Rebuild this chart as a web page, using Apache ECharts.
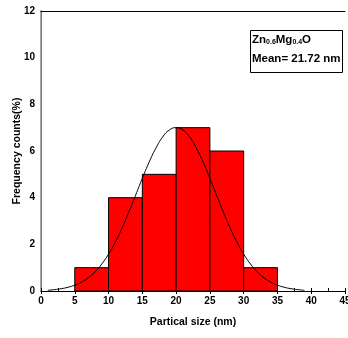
<!DOCTYPE html>
<html><head><meta charset="utf-8">
<script src="https://cdn.jsdelivr.net/npm/echarts@6/dist/echarts.min.js"></script>
<style>html,body{margin:0;padding:0;background:#fff}#c{width:348px;height:338px}</style>
</head><body><div id="c"></div>
<script>
const binLow = [5, 10, 15, 20, 25, 30];
const binHigh = [10, 15, 20, 25, 30, 35];
const counts = [1, 4, 5, 7, 6, 1];
const curveX = [1,2,3,4,5,6,7,8,9,10,11,12,13,14,15,16,17,18,19,20,21,22,23,24,25,26,27,28,29,30,31,32,33,34,35,36,37,38,39];
const curveY = [0.03,0.06,0.10,0.16,0.25,0.38,0.57,0.82,1.16,1.58,2.10,2.70,3.38,4.10,4.83,5.52,6.12,6.60,6.90,7.00,6.90,6.60,6.12,5.52,4.83,4.10,3.38,2.70,2.10,1.58,1.16,0.82,0.57,0.38,0.25,0.16,0.10,0.06,0.03];
const xTicks = [0, 45, 5];
const yTicks = [0, 12, 2];
const legendLines = ['Zn', '0.6', 'Mg', '0.4', 'O', 'Mean= 21.72 nm'];

const chart = echarts.init(document.getElementById('c'));
const font = 'Arial, "Liberation Sans", sans-serif';
const histData = binLow.map((lo, i) => [lo, binHigh[i], counts[i]]);
const curveData = curveX.map((x, i) => [x, curveY[i]]);

chart.setOption({
  animation: false,
  grid: { left: 41, right: 3, top: 11, bottom: 47, containLabel: false, outerBoundsMode: 'none' },
  xAxis: [
    { type: 'value', min: xTicks[0], max: xTicks[1], interval: xTicks[2], position: 'bottom',
      name: 'Partical size (nm)', nameLocation: 'middle', nameGap: 26,
      nameTextStyle: { fontFamily: font, fontWeight: 'bold', fontSize: 10.5, color: '#000' },
      axisLine: { lineStyle: { color: '#000', width: 1 } },
      axisTick: { show: true, inside: false, length: 3, lineStyle: { color: '#000' } },
      axisLabel: { fontFamily: font, fontWeight: 'bold', fontSize: 10, color: '#000', margin: 5 },
      splitLine: { show: false } },
    { type: 'value', min: xTicks[0], max: xTicks[1], interval: xTicks[2] / 2, position: 'bottom',
      axisLine: { show: false },
      axisTick: { show: true, inside: true, length: 3, lineStyle: { color: '#000' } },
      axisLabel: { show: false }, splitLine: { show: false } },
    { type: 'value', min: xTicks[0], max: xTicks[1], position: 'top',
      axisLine: { show: true, lineStyle: { color: '#000' } },
      axisTick: { show: false }, axisLabel: { show: false }, splitLine: { show: false } }
  ],
  yAxis: [
    { type: 'value', min: yTicks[0], max: yTicks[1], interval: yTicks[2],
      name: 'Frequency counts(%)', nameLocation: 'middle', nameGap: 18, nameMoveOverlap: false,
      nameTextStyle: { fontFamily: font, fontWeight: 'bold', fontSize: 10.5, color: '#000' },
      axisLine: { show: true, lineStyle: { color: '#555', width: 1 } },
      axisTick: { show: false },
      axisLabel: { fontFamily: font, fontWeight: 'bold', fontSize: 10, color: '#000', margin: 6 },
      splitLine: { show: false } },
    { type: 'value', min: yTicks[0], max: yTicks[1], position: 'right',
      axisLine: { show: true, lineStyle: { color: '#888', width: 1.5 } },
      axisTick: { show: false }, axisLabel: { show: false }, splitLine: { show: false } }
  ],
  series: [
    { type: 'custom', xAxisIndex: 0, yAxisIndex: 0, data: histData,
      encode: { x: [0, 1], y: 2 },
      renderItem: function (params, api) {
        const p1 = api.coord([api.value(0), api.value(2)]);
        const p2 = api.coord([api.value(1), 0]);
        return { type: 'rect',
          shape: { x: p1[0], y: p1[1], width: p2[0] - p1[0], height: p2[1] - p1[1] },
          style: { fill: '#ff0000', stroke: '#000', lineWidth: 1 } };
      }, z: 2 },
    { type: 'line', xAxisIndex: 0, yAxisIndex: 0, data: curveData, smooth: true,
      showSymbol: false, symbol: 'none', lineStyle: { color: '#000', width: 1 }, z: 3 }
  ],
  graphic: [
    { type: 'rect', left: 250, top: 30, shape: { width: 92, height: 42 },
      style: { fill: '#fff', stroke: '#000', lineWidth: 1 }, z: 10 },
    { type: 'text', left: 252, top: 33, z: 11,
      style: {
        text: '{m|' + legendLines[0] + '}{s|' + legendLines[1] + '}{m|' + legendLines[2] + '}{s|' + legendLines[3] + '}{m|' + legendLines[4] + '}\n{m|' + legendLines[5] + '}',
        rich: {
          m: { fontFamily: font, fontWeight: 'bold', fontSize: 11.5, color: '#000', lineHeight: 19 },
          s: { fontFamily: font, fontWeight: 'bold', fontSize: 7, color: '#000', lineHeight: 19, padding: [6, 0, 0, 0] }
        }
      } }
  ]
});
</script></body></html>
